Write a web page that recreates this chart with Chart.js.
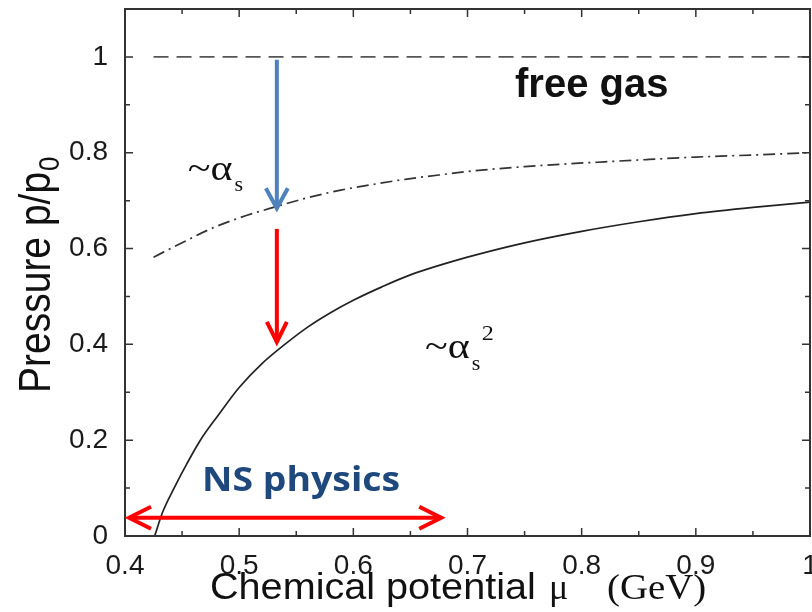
<!DOCTYPE html>
<html>
<head>
<meta charset="utf-8">
<script src="https://cdn.jsdelivr.net/npm/chart.js@4.4.1/dist/chart.umd.min.js"></script>
<style>
  html, body { margin: 0; padding: 0; background: #fff; }
  #wrap { width: 812px; height: 612px; }
</style>
</head>
<body>
<div id="wrap"><canvas id="chart" width="812" height="612"></canvas></div>
<script>
// chemical potential (GeV) and normalised pressure p/p0
const freeGasMu = [0.425, 1.0];
const freeGasP = [1.0, 1.0];

const alphaSMu = [0.425, 0.45, 0.473, 0.5, 0.533, 0.56, 0.589, 0.62, 0.647, 0.68, 0.705, 0.75, 0.782, 0.82, 0.859, 0.9, 0.936, 1.0];
const alphaSP = [0.582, 0.612, 0.639, 0.664, 0.688, 0.706, 0.722, 0.735, 0.745, 0.755, 0.762, 0.771, 0.776, 0.781, 0.786, 0.791, 0.794, 0.80];

const alphaS2Mu = [0.426, 0.433, 0.443, 0.454, 0.466, 0.481, 0.5, 0.52, 0.54, 0.56, 0.58, 0.6, 0.625, 0.65, 0.7, 0.75, 0.8, 0.85, 0.9, 0.95, 1.0];
const alphaS2P = [0, 0.05, 0.1, 0.15, 0.2, 0.25, 0.31, 0.36, 0.4, 0.436, 0.466, 0.492, 0.52, 0.545, 0.582, 0.612, 0.636, 0.656, 0.673, 0.686, 0.697];

const xTicks = [0.4, 0.5, 0.6, 0.7, 0.8, 0.9, 1.0];
const yTicks = [0, 0.2, 0.4, 0.6, 0.8, 1.0];

// arrows, in data units: [mu, p_from, p_to] and [p, mu_left, mu_right]
const blueArrow = [0.533, 0.994, 0.684];
const redArrow = [0.533, 0.641, 0.405];
const nsRange = [0.038, 0.4035, 0.677];

const SANS = '"Liberation Sans", Helvetica, Arial, sans-serif';
const SERIF = '"Liberation Serif", "Times New Roman", Times, serif';

const toPoints = (xs, ys) => xs.map((x, i) => ({ x: x, y: ys[i] }));

function drawText(ctx, str, x, y, font, color, sx, sy) {
  ctx.save();
  ctx.translate(x, y);
  ctx.scale(sx || 1, sy || 1);
  ctx.font = font;
  ctx.fillStyle = color;
  ctx.textAlign = 'left';
  ctx.textBaseline = 'alphabetic';
  ctx.fillText(str, 0, 0);
  const w = ctx.measureText(str).width * (sx || 1);
  ctx.restore();
  return w;
}

function arrowHead(ctx, tx, ty, dx, dy, len, half) {
  // open chevron pointing along (dx, dy)
  const bx = tx - dx * len, by = ty - dy * len;
  ctx.beginPath();
  ctx.moveTo(bx - dy * half, by + dx * half);
  ctx.lineTo(tx, ty);
  ctx.lineTo(bx + dy * half, by - dx * half);
  ctx.stroke();
}

// box frame with inward major / minor ticks on all four sides
const framePlugin = {
  id: 'frame',
  afterDatasetsDraw(chart) {
    const { ctx, chartArea: a, scales } = chart;
    const xs = scales.x, ys = scales.y;
    ctx.save();
    ctx.strokeStyle = '#333';
    ctx.lineWidth = 1.5;
    ctx.beginPath();
    for (let i = 0; i <= 12; i++) {
      const px = xs.getPixelForValue(0.4 + i * 0.05);
      const len = i % 2 === 0 ? 8 : 5;
      ctx.moveTo(px, a.bottom); ctx.lineTo(px, a.bottom - len);
      ctx.moveTo(px, a.top); ctx.lineTo(px, a.top + len);
    }
    for (let i = 0; i <= 11; i++) {
      const py = ys.getPixelForValue(i * 0.1);
      const len = i % 2 === 0 ? 8 : 5;
      ctx.moveTo(a.left, py); ctx.lineTo(a.left + len, py);
      ctx.moveTo(a.right, py); ctx.lineTo(a.right - len, py);
    }
    ctx.stroke();
    ctx.lineWidth = 2;
    ctx.strokeRect(a.left, a.top, a.right - a.left, a.bottom - a.top);
    ctx.restore();
  }
};

// arrows, curve labels and axis titles
const notesPlugin = {
  id: 'notes',
  afterDraw(chart) {
    const { ctx, scales } = chart;
    const X = v => scales.x.getPixelForValue(v);
    const Y = v => scales.y.getPixelForValue(v);
    ctx.save();
    ctx.lineCap = 'butt';
    ctx.lineJoin = 'miter';

    // blue arrow: free gas -> first order
    ctx.strokeStyle = '#4f81bd';
    ctx.lineWidth = 4;
    let ax = X(blueArrow[0]);
    ctx.beginPath();
    ctx.moveTo(ax, Y(blueArrow[1]));
    ctx.lineTo(ax, Y(blueArrow[2]) - 2);
    ctx.stroke();
    arrowHead(ctx, ax, Y(blueArrow[2]), 0, 1, 20, 11);

    // red arrow: first order -> second order
    ctx.strokeStyle = '#ff0000';
    ax = X(redArrow[0]);
    ctx.beginPath();
    ctx.moveTo(ax, Y(redArrow[1]));
    ctx.lineTo(ax, Y(redArrow[2]) - 2);
    ctx.stroke();
    arrowHead(ctx, ax, Y(redArrow[2]), 0, 1, 20, 10);

    // neutron-star range, double headed
    const hy = Y(nsRange[0]);
    const x0 = X(nsRange[1]), x1 = X(nsRange[2]);
    ctx.beginPath();
    ctx.moveTo(x0 + 2, hy);
    ctx.lineTo(x1 - 2, hy);
    ctx.stroke();
    arrowHead(ctx, x0, hy, -1, 0, 22, 11);
    arrowHead(ctx, x1, hy, 1, 0, 22, 11);

    drawText(ctx, 'NS physics', X(0.4675), Y(0.094), 'bold 34px "Open Sans", Lato, sans-serif', '#1f497d', 1.1);

    drawText(ctx, 'free gas', X(0.7416), Y(0.9165), 'bold 40px ' + SANS, '#111', 1);

    // ~alpha_s
    let w = drawText(ctx, '~\u03b1', X(0.455), Y(0.743), '35px ' + SERIF, '#111', 1.2);
    drawText(ctx, 's', X(0.455) + w + 2, Y(0.743) + 11, '20px ' + SERIF, '#111', 1.1);

    // ~alpha_s^2
    const lx = X(0.6628), ly = Y(0.3716);
    w = drawText(ctx, '~\u03b1', lx, ly, '35px ' + SERIF, '#111', 1.2);
    drawText(ctx, 's', lx + w + 2, ly + 12, '20px ' + SERIF, '#111', 1.1);
    drawText(ctx, '2', lx + w + 12, ly - 18, '22px ' + SERIF, '#111', 1.1);

    // x axis title
    drawText(ctx, 'Chemical potential', 210, 599, '36px ' + SANS, '#111', 1.1);
    drawText(ctx, '\u03bc', 549, 599, '36px ' + SERIF, '#111', 1.0);
    drawText(ctx, '(GeV)', 607, 599, '36px ' + SERIF, '#111', 1.08);

    // y axis title, rotated
    ctx.save();
    ctx.translate(50, 393);
    ctx.rotate(-Math.PI / 2);
    w = drawText(ctx, 'Pressure p/p', 0, 0, '39px ' + SANS, '#111', 1, 1.12);
    drawText(ctx, '0', w + 1, 9, '26px ' + SANS, '#111', 1, 1.12);
    ctx.restore();

    ctx.restore();
  }
};

const fmt = v => String(+(+v).toFixed(2));

new Chart(document.getElementById('chart'), {
  type: 'scatter',
  data: {
    datasets: [
      {
        label: 'free gas',
        data: toPoints(freeGasMu, freeGasP),
        showLine: true,
        borderColor: '#555',
        borderWidth: 1.6,
        borderDash: [15, 8],
        pointRadius: 0
      },
      {
        label: '~alpha_s',
        data: toPoints(alphaSMu, alphaSP),
        showLine: true,
        borderColor: '#333',
        borderWidth: 1.7,
        borderDash: [12, 5, 2, 5],
        cubicInterpolationMode: 'monotone',
        pointRadius: 0
      },
      {
        label: '~alpha_s^2',
        data: toPoints(alphaS2Mu, alphaS2P),
        showLine: true,
        borderColor: '#222',
        borderWidth: 1.7,
        cubicInterpolationMode: 'monotone',
        pointRadius: 0
      }
    ]
  },
  options: {
    responsive: false,
    animation: false,
    layout: { padding: { left: 0, right: 2, top: 9, bottom: 0 } },
    plugins: {
      legend: { display: false },
      tooltip: { enabled: false }
    },
    scales: {
      x: {
        type: 'linear',
        min: 0.4,
        max: 1.0,
        grid: { display: false, drawTicks: false },
        border: { display: false },
        afterBuildTicks: s => { s.ticks = xTicks.map(v => ({ value: v })); },
        afterFit: s => { s.height = 76; s.paddingLeft = 0; s.paddingRight = 0; },
        ticks: {
          padding: 13,
          maxRotation: 0,
          autoSkip: false,
          color: '#1a1a1a',
          font: { family: SANS, size: 28 },
          callback: fmt
        }
      },
      y: {
        type: 'linear',
        min: 0,
        max: 1.1,
        grid: { display: false, drawTicks: false },
        border: { display: false },
        afterBuildTicks: s => { s.ticks = yTicks.map(v => ({ value: v })); },
        afterFit: s => { s.width = 125; s.paddingTop = 0; s.paddingBottom = 0; },
        ticks: {
          padding: 17,
          autoSkip: false,
          color: '#1a1a1a',
          font: { family: SANS, size: 28 },
          callback: fmt
        }
      }
    }
  },
  plugins: [framePlugin, notesPlugin]
});
</script>
</body>
</html>
